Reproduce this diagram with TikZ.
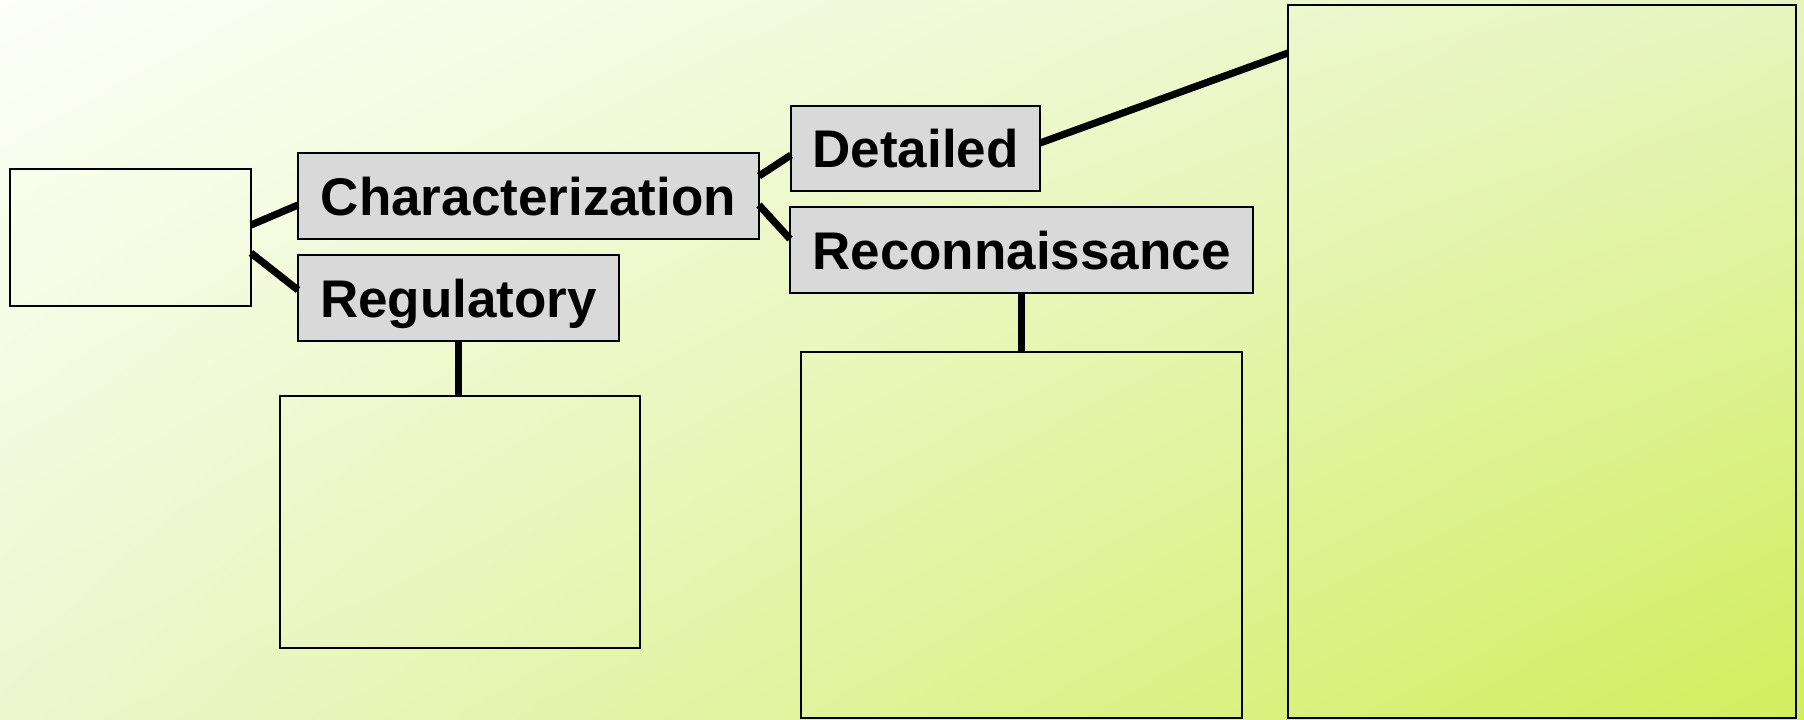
\documentclass[tikz,border=0pt]{standalone}
\usepackage{fontspec}
\setmainfont{Liberation Sans}
\usetikzlibrary{shadings}
\begin{document}
\begin{tikzpicture}[x=0.5pt,y=-0.5pt,
  plainbox/.style={draw=black,line width=0.8pt,inner sep=0pt,outer sep=0pt},
  labelbox/.style={draw=black,line width=0.8pt,fill=boxgray,inner sep=0pt,outer sep=0pt,
    font=\fontsize{26.5pt}{30pt}\selectfont\bfseries,text height=19pt,text depth=0pt},
  link/.style={line width=3.6pt,black}]
\definecolor{boxgray}{HTML}{D9D9D9}
\definecolor{bgtl}{HTML}{FDFFF8}
\definecolor{bgtr}{HTML}{E6F5BE}
\definecolor{bgbl}{HTML}{ECF7CE}
\definecolor{bgbr}{HTML}{D2EE5C}
\useasboundingbox (0,0) rectangle (1804,719);
\shade[upper left=bgtl,upper right=bgtr,lower left=bgbl,lower right=bgbr] (0,0) rectangle (1804,719);

\node[plainbox,minimum width=120.5pt,minimum height=68.5pt] (lbox) at (130.5,237.5) {};
\node[labelbox,minimum width=230.5pt,minimum height=43pt] (char) at (528.5,196) {Characterization};
\node[labelbox,minimum width=160.5pt,minimum height=43pt] (reg) at (458.5,298) {Regulatory};
\node[plainbox,minimum width=180pt,minimum height=126pt] (regchild) at (460,522) {};
\node[labelbox,minimum width=124.5pt,minimum height=42.5pt] (det) at (915.5,148.5) {Detailed};
\node[labelbox,minimum width=231.5pt,minimum height=43pt] (rec) at (1021.5,250) {Reconnaissance};
\node[plainbox,minimum width=220.5pt,minimum height=183pt] (recchild) at (1021.5,535) {};
\node[plainbox,minimum width=254pt,minimum height=356.5pt] (big) at (1542,361.5) {};

\draw[link] ([yshift=6.25pt]lbox.east) -- ([yshift=-4.5pt]char.west);
\draw[link] ([yshift=-7.75pt]lbox.east) -- ([yshift=4pt]reg.west);
\draw[link] ([yshift=10pt]char.east) -- ([yshift=-3.25pt]det.west);
\draw[link] ([yshift=-4.5pt]char.east) -- ([yshift=5.5pt]rec.west);
\draw[link] ([yshift=2.75pt]det.east) -- ([yshift=-24pt]big.north west);
\draw[link] (reg.south) -- (reg.south |- regchild.north);
\draw[link] (rec.south) -- (rec.south |- recchild.north);
\end{tikzpicture}
\end{document}
